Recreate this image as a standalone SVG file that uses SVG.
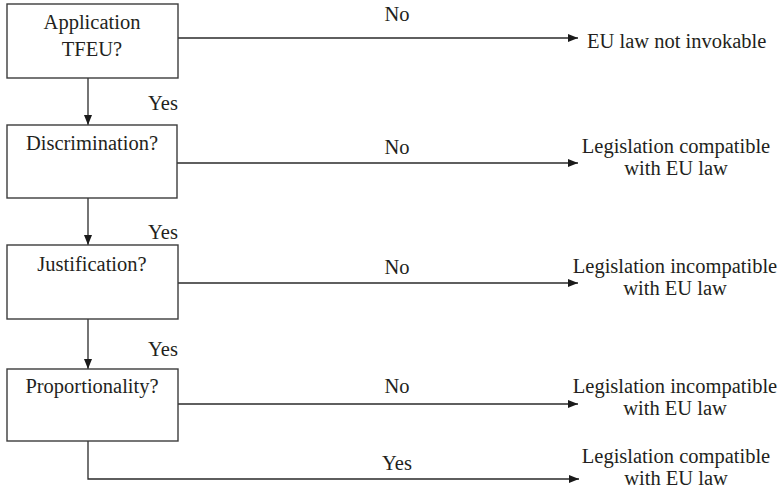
<svg xmlns="http://www.w3.org/2000/svg" width="782" height="494" viewBox="0 0 782 494">
<style>
.box{fill:#fff;stroke:#3c3c3c;stroke-width:1.4}
.t{font-family:"Liberation Serif","Times New Roman",serif;font-size:20.5px;fill:#231f20}
.m{text-anchor:middle}
.c{fill:none;stroke:#2a2a2a;stroke-width:1.3}
</style>
<defs>
<marker id="ah" viewBox="0 0 10 8" refX="10" refY="4" markerWidth="10" markerHeight="8" markerUnits="userSpaceOnUse" orient="auto">
<path d="M0,0 L10,4 L0,8 Z" fill="#1a1a1a"/>
</marker>
</defs>
<rect width="782" height="494" fill="#fff"/>
<g id="connectors">
<line class="c" x1="88" y1="78" x2="88" y2="125" marker-end="url(#ah)"/>
<line class="c" x1="88" y1="198" x2="88" y2="245" marker-end="url(#ah)"/>
<line class="c" x1="88" y1="319" x2="88" y2="369" marker-end="url(#ah)"/>
<line class="c" x1="178" y1="38" x2="578" y2="38" marker-end="url(#ah)"/>
<line class="c" x1="177" y1="163" x2="578" y2="163" marker-end="url(#ah)"/>
<line class="c" x1="178" y1="283" x2="578" y2="283" marker-end="url(#ah)"/>
<line class="c" x1="178" y1="404" x2="578" y2="404" marker-end="url(#ah)"/>
<polyline class="c" points="88,441 88,479 579,479" marker-end="url(#ah)"/>
<text class="t m" x="397" y="21">No</text>
<text class="t m" x="397" y="154">No</text>
<text class="t m" x="397" y="274">No</text>
<text class="t m" x="397" y="393">No</text>
<text class="t m" x="397" y="470">Yes</text>
<text class="t m" x="163" y="110">Yes</text>
<text class="t m" x="163" y="239">Yes</text>
<text class="t m" x="163" y="356">Yes</text>
</g>
<g id="n1">
<rect class="box" x="7" y="4" width="171" height="74"/>
<text class="t m" x="92" y="29">Application</text>
<text class="t m" x="92" y="56">TFEU?</text>
</g>
<g id="n2">
<rect class="box" x="7" y="125" width="170" height="73"/>
<text class="t m" x="92" y="150">Discrimination?</text>
</g>
<g id="n3">
<rect class="box" x="7" y="245" width="171" height="74"/>
<text class="t m" x="92" y="271">Justification?</text>
</g>
<g id="n4">
<rect class="box" x="7" y="369" width="171" height="72"/>
<text class="t m" x="92" y="393">Proportionality?</text>
</g>
<g id="o1">
<text class="t" x="587" y="48">EU law not invokable</text>
</g>
<g id="o2">
<text class="t m" x="676" y="153">Legislation compatible</text>
<text class="t m" x="676" y="175">with EU law</text>
</g>
<g id="o3">
<text class="t m" x="675" y="273">Legislation incompatible</text>
<text class="t m" x="675" y="295">with EU law</text>
</g>
<g id="o4">
<text class="t m" x="675" y="393">Legislation incompatible</text>
<text class="t m" x="675" y="415">with EU law</text>
</g>
<g id="o5">
<text class="t m" x="676" y="463">Legislation compatible</text>
<text class="t m" x="676" y="485">with EU law</text>
</g>
</svg>
